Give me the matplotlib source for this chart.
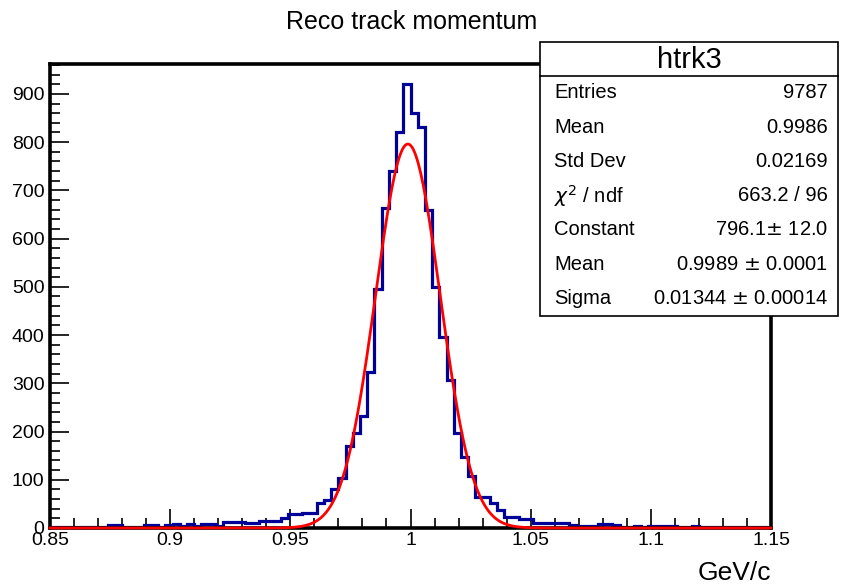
"""
Reco track momentum histogram with gaussian fit, ROOT style.
"""

import numpy as np
import matplotlib
matplotlib.use("Agg")
import matplotlib.pyplot as plt
from matplotlib.patches import Rectangle
from matplotlib.ticker import MultipleLocator

plt.rcParams["font.family"] = ["Liberation Sans", "DejaVu Sans"]

# histogram: 100 bins from 0.85 to 1.15 GeV/c
x_lo, x_hi, n_bins = 0.85, 1.15, 100
counts = [
    3, 3, 3, 3, 3, 3, 3, 3, 6, 6,
    3, 3, 3, 6, 6, 3, 6, 8, 4, 9,
    4, 9, 9, 5, 12, 12, 12, 10, 10, 14,
    14, 14, 20, 28, 28, 32, 32, 52, 59, 81,
    103, 170, 197, 232, 324, 495, 664, 740, 820, 920,
    860, 832, 660, 500, 396, 307, 197, 147, 107, 64,
    64, 51, 37, 23, 23, 18, 18, 11, 11, 11,
    11, 10, 7, 4, 4, 4, 9, 9, 6, 3,
    3, 4, 3, 4, 5, 5, 4, 3, 3, 5,
    3, 3, 2, 3, 3, 3, 2, 3, 3, 3,
]

# fit parameters from the stats box
fit_const = 796.1
fit_mean = 0.9989
fit_sigma = 0.01344

stats_labels = ["Entries", "Mean", "Std Dev", r"$\chi^2$ / ndf", "Constant", "Mean", "Sigma"]
stats_values = ["9787", "0.9986", "0.02169", "663.2 / 96", "796.1$\\pm$ 12.0",
                "0.9989 $\\pm$ 0.0001", "0.01344 $\\pm$ 0.00014"]

W, H = 846, 587
fig = plt.figure(figsize=(W / 100, H / 100), dpi=100)
ax = fig.add_axes([50 / W, 1 - 528 / H, (771 - 50) / W, (528 - 64) / H])

edges = np.linspace(x_lo, x_hi, n_bins + 1)
ax.stairs(counts, edges, color="#000099", linewidth=2.3, zorder=2)

xf = np.linspace(x_lo, x_hi, 600)
yf = fit_const * np.exp(-0.5 * ((xf - fit_mean) / fit_sigma) ** 2)
ax.plot(xf, yf, color="#ff0000", linewidth=2.0, zorder=3, clip_on=False)

ax.set_xlim(x_lo, x_hi)
ax.set_ylim(0, 962)

for s in ax.spines.values():
    s.set_linewidth(2.6)

ax.xaxis.set_major_locator(MultipleLocator(0.05))
ax.xaxis.set_minor_locator(MultipleLocator(0.01))
ax.yaxis.set_major_locator(MultipleLocator(100))
ax.yaxis.set_minor_locator(MultipleLocator(20))
ax.tick_params(which="both", direction="in", top=False, right=False,
               labelsize=14, width=1.2, colors="#000000")
ax.tick_params(axis="x", which="major", length=14, pad=3)
ax.tick_params(axis="x", which="minor", length=7)
ax.tick_params(axis="y", which="major", length=14, pad=4)
ax.tick_params(axis="y", which="minor", length=7)
ax.set_xticks([0.85, 0.9, 0.95, 1.0, 1.05, 1.1, 1.15])
ax.set_xticklabels(["0.85", "0.9", "0.95", "1", "1.05", "1.1", "1.15"])

fig.text(412 / W, 1 - 22 / H, "Reco track momentum", ha="center", va="center", fontsize=18)
fig.text(771 / W, 1 - 573 / H, "GeV/c", ha="right", va="center", fontsize=19)

# stats box
bx0, by0, bx1, by1 = 540, 42, 838, 316
fig.patches.append(Rectangle((bx0 / W, 1 - by1 / H), (bx1 - bx0) / W, (by1 - by0) / H,
                             transform=fig.transFigure, facecolor="white",
                             edgecolor="black", linewidth=1.2, zorder=5))
fig.add_artist(plt.Line2D([bx0 / W, bx1 / W], [1 - 76 / H, 1 - 76 / H],
                          transform=fig.transFigure, color="black", linewidth=1.2, zorder=6))
fig.text((bx0 + bx1) / 2 / W, 1 - 60 / H, "htrk3", ha="center", va="center",
         fontsize=21, zorder=7)
for k, (lab, val) in enumerate(zip(stats_labels, stats_values)):
    yy = 1 - (93 + k * 34.2) / H
    fig.text(554 / W, yy, lab, ha="left", va="center", fontsize=14.5, zorder=7)
    fig.text(828 / W, yy, val, ha="right", va="center", fontsize=14.5, zorder=7)

fig.savefig("out.png", dpi=100)
